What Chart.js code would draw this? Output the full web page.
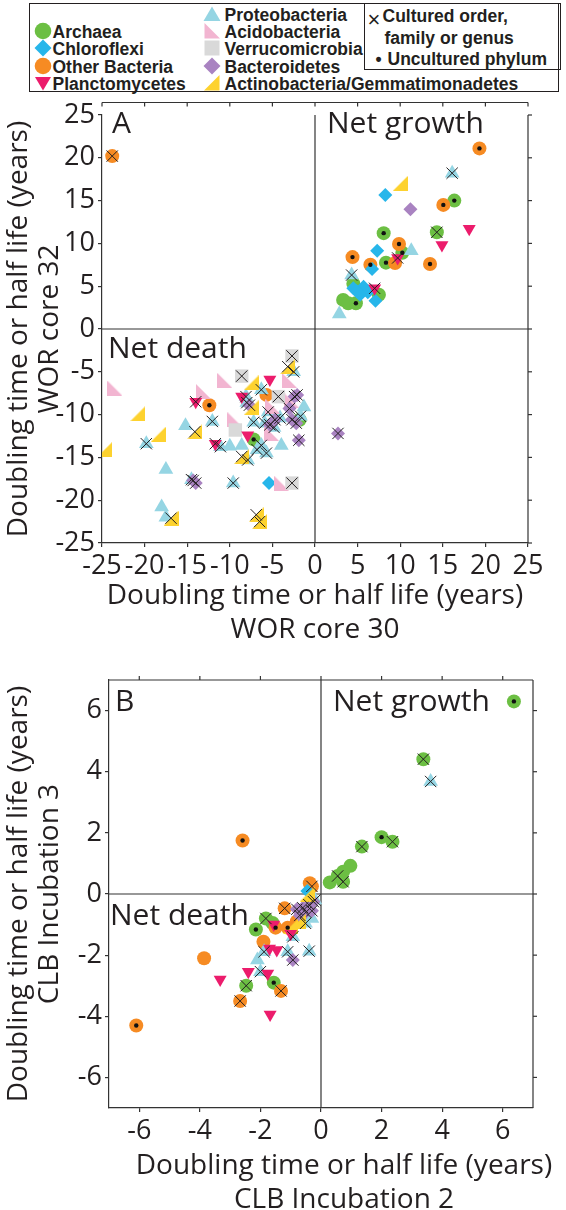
<!DOCTYPE html>
<html>
<head>
<meta charset="utf-8">
<script src="https://cdn.jsdelivr.net/npm/chart.js@4.4.1/dist/chart.umd.min.js"></script>
<style>
  body { margin: 0; width: 566px; height: 1210px; position: relative; overflow: hidden; background: #fff; color: #231f20; font-family: 'Open Sans', sans-serif; }
  canvas { position: absolute; left: 0; }
  .legend { position: absolute; left: 29px; top: 3px; width: 530px; height: 89px; border: 1.5px solid #231f20; box-sizing: border-box; }
  .legend .cult { position: absolute; left: 334px; top: -1.5px; width: 197px; height: 67px; border: 1.5px solid #231f20; box-sizing: border-box; }
  .li { position: absolute; height: 18px; line-height: 18px; font: bold 17.5px 'Liberation Sans', Arial, sans-serif; white-space: nowrap; }
  .li svg { position: absolute; top: 0; left: 0; }
  .li span.lab { position: absolute; top: 0; }
  .txt { position: absolute; white-space: nowrap; line-height: 1; }
  .note { font-size: 30px; }
  .title { font-size: 28px; text-align: center; }
  .ytitle { position: absolute; width: 440px; height: 62px; line-height: 31px; font-size: 28px; text-align: center; transform: rotate(-90deg); white-space: nowrap; }
</style>
</head>
<body>
<div class="legend" id="legend"><div class="cult"></div></div>

<canvas id="chartA" width="566" height="520" style="top:95px"></canvas>
<canvas id="chartB" width="566" height="525" style="top:655px"></canvas>

<div class="txt note" style="left:112px;top:107px">A</div>
<div class="txt note" style="left:327px;top:107px">Net growth</div>
<div class="txt note" style="left:108px;top:332px">Net death</div>
<div class="txt title" style="left:15px;width:600px;top:579px">Doubling time or half life (years)</div>
<div class="txt title" style="left:15px;width:600px;top:613px">WOR core 30</div>
<div class="ytitle" style="left:-188.5px;top:298px">Doubling time or half life (years)<br>WOR core 32</div>

<div class="txt note" style="left:115px;top:685px">B</div>
<div class="txt note" style="left:333px;top:685px">Net growth</div>
<div class="txt note" style="left:110px;top:899px">Net death</div>
<div class="txt title" style="left:44px;width:600px;top:1149px">Doubling time or half life (years)</div>
<div class="txt title" style="left:44px;width:600px;top:1183px">CLB Incubation 2</div>
<div class="ytitle" style="left:-188.5px;top:863px">Doubling time or half life (years)<br>CLB Incubation 3</div>

<script>
// [x, y, mark]  mark: 'x' = cultured order/family/genus, 'd' = uncultured phylum
const archaeaA = [[16.35, 15.0, 'd'], [14.3, 11.3, 'x'], [8.06, 11.2, 'd'], [10.25, 8.9, 'd'], [8.33, 7.75, 'd'], [4.5, 5.3, ''], [7.5, 4.0, ''], [3.3, 3.4, ''], [3.9, 3.0, ''], [4.8, 3.0, 'd'], [-7.2, -12.9, 'd'], [-1.8, -10.6, '']];
const chloroflexiA = [[8.25, 15.65, ''], [7.3, 9.15, ''], [6.7, 7.0, ''], [4.5, 4.75, ''], [5.7, 4.95, ''], [5.3, 4.0, ''], [7.1, 3.3, ''], [6.2, 4.3, ''], [4.9, 4.4, ''], [-5.4, -18.0, '']];
const otherBacteriaA = [[-23.8, 20.2, 'x'], [19.3, 21.1, 'd'], [15.06, 14.5, 'd'], [9.86, 9.93, 'd'], [9.4, 7.7, ''], [6.5, 7.5, 'd'], [4.4, 8.4, 'd'], [13.5, 7.6, 'd'], [-12.4, -8.9, 'd'], [-5.7, -7.7, '']];
const planctoA = [[18.1, 11.7, ''], [14.9, 9.8, ''], [9.7, 8.3, 'x'], [7.0, 4.75, 'x'], [-14.0, -8.5, 'x'], [-11.7, -13.4, 'x'], [-5.3, -5.9, ''], [-8.6, -7.9, ''], [-7.9, -12.4, '']];
const proteoA = [[16.1, 18.2, 'x'], [11.3, 9.15, ''], [4.3, 6.3, 'x'], [2.85, 1.75, ''], [-19.8, -13.4, 'x'], [-15.2, -11.3, ''], [-17.5, -16.4, ''], [-14.5, -17.6, 'x'], [-18.0, -20.8, ''], [-17.5, -22.0, ''], [-12.05, -10.8, 'x'], [-11.1, -13.75, 'x'], [-10.0, -13.7, ''], [-9.6, -18.0, 'x'], [-2.5, -5.0, 'x'], [-6.3, -7.1, 'x'], [-8.1, -7.9, 'x'], [-8.0, -8.6, 'x'], [-5.5, -9.7, 'x'], [-4.1, -10.4, 'x'], [-8.6, -13.6, ''], [-6.3, -13.6, 'x'], [-3.95, -13.6, ''], [-5.7, -14.5, 'x'], [-6.8, -14.1, 'x'], [-7.9, -15.3, 'x'], [-5.9, -11.0, 'x'], [-1.3, -9.1, ''], [-1.7, -10.2, 'x'], [-7.2, -10.9, 'x'], [-4.8, -11.5, 'x']];
const acidoA = [[-23.5, -6.9, ''], [-10.6, -6.0, ''], [-13.1, -7.3, ''], [-3.0, -6.0, ''], [-9.4, -10.6, ''], [-5.1, -12.2, ''], [-3.95, -18.0, ''], [-5.0, -9.0, ''], [-2.7, -8.4, '']];
const verrucoA = [[-2.7, -3.15, 'x'], [-8.6, -5.5, 'x'], [-4.3, -7.9, 'x'], [-9.35, -11.8, ''], [-2.7, -18.0, 'x']];
const bacteroA = [[11.2, 14.0, ''], [2.7, -12.2, 'x'], [-14.0, -18.0, 'x'], [-14.3, -17.7, 'x'], [-7.7, -8.9, 'x'], [-4.7, -10.6, 'x'], [-3.0, -9.3, 'x'], [-2.4, -7.9, 'x'], [-2.1, -7.7, 'x'], [-2.7, -10.6, 'x'], [-1.9, -13.0, 'x'], [-5.3, -11.2, 'x'], [-2.2, -11.0, 'x']];
const actinoA = [[10.0, 17.0, ''], [-20.8, -9.9, ''], [-18.4, -12.3, ''], [-24.7, -14.1, ''], [-14.1, -12.0, 'x'], [-16.9, -22.1, 'x'], [-3.2, -4.4, 'x'], [-7.5, -6.3, ''], [-8.6, -14.9, 'x'], [-6.9, -21.7, 'x'], [-6.5, -22.5, 'x'], [-7.5, -9.2, '']];

const archaeaB = [[6.37, 6.3, 'd'], [3.38, 4.41, 'x'], [1.35, 1.55, 'x'], [2.0, 1.86, 'd'], [2.36, 1.71, 'x'], [0.97, 0.92, ''], [0.73, 0.73, ''], [0.55, 0.59, 'x'], [0.73, 0.40, 'x'], [0.29, 0.38, ''], [-1.82, -0.8, 'x'], [-2.15, -1.16, 'd'], [-2.47, -3.0, 'x'], [-1.56, -2.9, 'd'], [-1.6, -0.95, '']];
const chloroflexiB = [[-0.45, 0.1, '']];
const otherBacteriaB = [[-2.59, 1.75, 'd'], [-0.37, 0.35, ''], [-0.3, 0.25, 'x'], [-1.2, -0.47, 'x'], [-1.5, -1.1, 'd'], [-1.9, -1.56, ''], [-1.1, -1.1, 'd'], [-3.86, -2.1, ''], [-6.1, -4.3, 'd'], [-2.67, -3.5, 'x'], [-1.32, -3.17, 'x'], [-0.8, -0.9, '']];
const planctoB = [[-1.56, -1.0, ''], [-3.33, -2.8, ''], [-2.4, -2.54, ''], [-1.76, -2.6, ''], [-1.46, -1.83, ''], [-1.7, -1.78, ''], [-1.68, -3.94, ''], [-1.0, -1.3, '']];
const proteoB = [[3.62, 3.68, 'x'], [-0.39, -1.87, 'x'], [-2.1, -2.16, ''], [-2.0, -2.54, 'x'], [-1.88, -1.89, 'x'], [-1.1, -1.89, 'x'], [-0.93, -1.4, 'x'], [-0.51, -0.96, 'x'], [-0.3, -0.8, ''], [-0.2, -0.2, 'x']];
const acidoB = [];
const verrucoB = [];
const bacteroB = [[-0.93, -2.16, 'x'], [-0.6, -0.45, 'x'], [-0.4, -0.35, 'x'], [-0.5, -0.6, 'x'], [-0.3, -0.55, 'x'], [-0.7, -0.7, 'x'], [-0.25, -0.25, 'x'], [-0.8, -0.5, 'x']];
const actinoB = [[-0.45, 0.0, ''], [-1.0, -1.05, ''], [-0.75, -0.9, '']];

const ticksA = [-25, -20, -15, -10, -5, 0, 5, 10, 15, 20, 25];
const ticksB = [-6, -4, -2, 0, 2, 4, 6];

const INK = '#231f20';
const FONT = "'Open Sans', sans-serif";

function rightTri(color, side) {
  const c = document.createElement('canvas');
  c.width = 15; c.height = 15;
  const g = c.getContext('2d');
  g.fillStyle = color;
  g.beginPath();
  if (side === 'left') { g.moveTo(0, 0); g.lineTo(15, 15); g.lineTo(0, 15); }
  else { g.moveTo(15, 0); g.lineTo(15, 15); g.lineTo(0, 15); }
  g.closePath();
  g.fill();
  return c;
}

// bottom to top drawing order
const kinds = {
  archaea:  { name: 'Archaea', color: '#6cbf43', style: 'circle', r: 7, icon: 'circle' },
  other:    { name: 'Other Bacteria', color: '#f68b23', style: 'circle', r: 7, icon: 'circle' },
  chloro:   { name: 'Chloroflexi', color: '#27b6ea', style: 'rectRot', r: 7, icon: 'diamond' },
  proteo:   { name: 'Proteobacteria', color: '#95d5e3', style: 'triangle', r: 8.5, icon: 'up' },
  acido:    { name: 'Acidobacteria', color: '#f2b5d1', style: rightTri('#f2b5d1', 'left'), r: 7, icon: 'tl' },
  verruco:  { name: 'Verrucomicrobia', color: '#d9d9d9', style: 'rect', r: 9.5, icon: 'square' },
  bactero:  { name: 'Bacteroidetes', color: '#a983c1', style: 'rectRot', r: 7, icon: 'diamond' },
  actino:   { name: 'Actinobacteria/Gemmatimonadetes', color: '#fdd22f', style: rightTri('#fdd22f', 'right'), r: 7, icon: 'tr' },
  plancto:  { name: 'Planctomycetes', color: '#ec1c6c', style: 'triangle', rot: 180, r: 7.5, icon: 'down' },
};

function buildDatasets(groups) {
  const ds = [];
  const crosses = [];
  const dots = [];
  groups.forEach(([k, rows], i) => {
    const kd = kinds[k];
    ds.push({
      label: kd.name,
      data: rows.map((r) => ({ x: r[0], y: r[1] })),
      pointStyle: kd.style,
      rotation: kd.rot || 0,
      pointRadius: kd.r,
      backgroundColor: kd.color,
      borderColor: kd.color,
      borderWidth: 0,
      order: 100 - i,
    });
    rows.forEach((r) => {
      if (r[2] === 'x') crosses.push({ x: r[0], y: r[1] });
      if (r[2] === 'd') dots.push({ x: r[0], y: r[1] });
    });
  });
  ds.push({ label: 'cultured', data: crosses, pointStyle: 'crossRot', pointRadius: 8, borderColor: INK, borderWidth: 1, backgroundColor: 'rgba(0,0,0,0)', order: 1 });
  ds.push({ label: 'uncultured', data: dots, pointStyle: 'circle', pointRadius: 2.2, backgroundColor: '#111', borderWidth: 0, order: 0 });
  return ds;
}

const framePlugin = {
  id: 'frame',
  beforeDatasetsDraw(chart, args, opts) {
    const { ctx, chartArea: a, scales: { x, y } } = chart;
    const line = (x1, y1, x2, y2) => { ctx.beginPath(); ctx.moveTo(x1, y1); ctx.lineTo(x2, y2); ctx.stroke(); };
    ctx.save();
    ctx.strokeStyle = '#333';
    ctx.lineWidth = 1.2;
    const x0 = x.getPixelForValue(0);
    const y0 = y.getPixelForValue(0);
    line(x0, a.top, x0, a.bottom);
    line(a.left, y0, a.right, y0);
    line(a.right, a.top, a.right, a.bottom);
    y.ticks.forEach((t) => { const p = y.getPixelForValue(t.value); line(a.right, p, a.right + 4, p); });
    const ty = a.top - opts.gap;
    line(a.left, ty, a.right, ty);
    x.ticks.forEach((t) => { const p = x.getPixelForValue(t.value); line(p, ty, p, ty + opts.dir * 4); });
    ctx.restore();
  },
};

function axis(min, max, ticks, fit) {
  return {
    type: 'linear',
    min,
    max,
    afterBuildTicks: (s) => { s.ticks = ticks.map((v) => ({ value: v })); },
    afterFit: fit,
    ticks: { font: { family: FONT, size: 27 }, color: INK, padding: 3, maxRotation: 0, autoSkip: false },
    grid: { drawOnChartArea: false, drawTicks: true, tickLength: 4, color: '#333', lineWidth: 1.2 },
    border: { display: true, color: '#333', width: 1.2 },
  };
}

function makeChart(id, groups, range, ticks, yWidth, padding, frame) {
  return new Chart(document.getElementById(id), {
    type: 'scatter',
    data: { datasets: buildDatasets(groups) },
    options: {
      responsive: false,
      animation: false,
      devicePixelRatio: 1,
      layout: { padding },
      scales: {
        x: axis(-range, range, ticks, (s) => { s.height = 50; s.paddingLeft = 0; s.paddingRight = 0; }),
        y: axis(-range, range, ticks, (s) => { s.width = yWidth; s.paddingTop = 0; s.paddingBottom = 0; }),
      },
      plugins: { legend: { display: false }, tooltip: { enabled: false }, frame },
    },
    plugins: [framePlugin],
  });
}

makeChart('chartA', [
  ['archaea', archaeaA], ['other', otherBacteriaA], ['chloro', chloroflexiA], ['proteo', proteoA],
  ['acido', acidoA], ['verruco', verrucoA], ['bactero', bacteroA], ['actino', actinoA], ['plancto', planctoA],
], 25, ticksA, 102, { left: 0, right: 38, top: 20, bottom: 22 }, { gap: 12.5, dir: 1 });

makeChart('chartB', [
  ['archaea', archaeaB], ['other', otherBacteriaB], ['chloro', chloroflexiB], ['proteo', proteoB],
  ['acido', acidoB], ['verruco', verrucoB], ['bactero', bacteroB], ['actino', actinoB], ['plancto', planctoB],
], 7, ticksB, 109, { left: 0, right: 33, top: 25, bottom: 22 }, { gap: 0, dir: -1 });

// legend (coordinates inside the legend box)
function svgIcon(icon, color) {
  const shapes = {
    circle: '<circle cx="9" cy="9" r="8.3"/>',
    diamond: '<polygon points="9,0.5 17.5,9 9,17.5 0.5,9"/>',
    up: '<polygon points="9,1.5 17.5,16 0.5,16"/>',
    down: '<polygon points="1,3 17,3 9,16.5"/>',
    tl: '<polygon points="1.5,1 17,16.5 1.5,16.5"/>',
    tr: '<polygon points="16.5,1 16.5,16.5 1,16.5"/>',
    square: '<rect x="1.5" y="1.5" width="15" height="15"/>',
  };
  return `<svg width="18" height="18" viewBox="0 0 18 18" fill="${color}">${shapes[icon]}</svg>`;
}

const legendRows = [
  ['archaea', 3.5, 26.5], ['chloro', 3.5, 44], ['other', 3.5, 61.5], ['plancto', 3.5, 78.5],
  ['proteo', 172.5, 9.5], ['acido', 172.5, 26.5], ['verruco', 172.5, 44], ['bactero', 172.5, 61.5], ['actino', 172.5, 78.5],
];
const legend = document.getElementById('legend');
legendRows.forEach(([k, left, cy]) => {
  const kd = kinds[k];
  const el = document.createElement('div');
  el.className = 'li';
  el.style.left = left + 'px';
  el.style.top = (cy - 9) + 'px';
  el.innerHTML = svgIcon(kd.icon, kd.color) + `<span class="lab" style="left:${left < 100 ? 19 : 22}px">${kd.name}</span>`;
  legend.appendChild(el);
});
const cultRows = [
  ['<span style="font-weight:normal;font-size:22px;position:absolute;left:-15px;top:1px">×</span>Cultured order,', 352.5, 10.5],
  ['family or genus', 354.5, 32.5],
  ['<span style="position:absolute;left:-12px">•</span>Uncultured phylum', 357.5, 53.5],
];
cultRows.forEach(([html, left, cy]) => {
  const el = document.createElement('div');
  el.className = 'li';
  el.style.left = left + 'px';
  el.style.top = (cy - 9) + 'px';
  el.innerHTML = html;
  legend.appendChild(el);
});
</script>
</body>
</html>
